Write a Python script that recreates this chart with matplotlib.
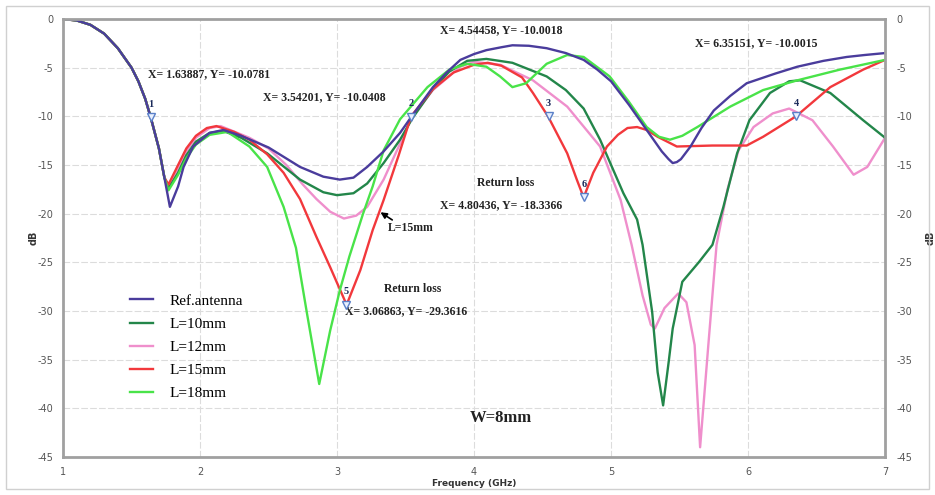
"""Return loss of the antenna for several stub lengths L (W = 8 mm)."""

import matplotlib.pyplot as plt
from matplotlib.patches import Rectangle

plt.rcParams["axes.unicode_minus"] = False

# Shared low-frequency roll-off, identical for every variant
START_F = [1.0, 1.1, 1.2, 1.3, 1.4, 1.5, 1.55, 1.6, 1.64, 1.7, 1.74]
START_DB = [0.0, -0.15, -0.6, -1.5, -3.0, -5.0, -6.4, -8.2, -10.1, -13.3, -16.3]

REF_F = [1.78, 1.84, 1.88, 1.95, 2.07, 2.17, 2.3, 2.5, 2.73, 2.9, 3.02, 3.12,
         3.22, 3.34, 3.46, 3.55, 3.7, 3.8, 3.9, 4.0, 4.09, 4.2, 4.28, 4.4, 4.53,
         4.67, 4.8, 4.9, 5.0, 5.13, 5.26, 5.37, 5.42, 5.45, 5.48, 5.51, 5.58,
         5.66, 5.75, 5.87, 5.99, 6.2, 6.36, 6.55, 6.72, 6.85, 7.0]
REF_DB = [-19.3, -17.2, -15.2, -13.1, -11.7, -11.4, -12.0, -13.2, -15.2, -16.2,
          -16.5, -16.3, -15.2, -13.6, -11.7, -9.9, -7.0, -5.5, -4.2, -3.6, -3.2,
          -2.9, -2.7, -2.75, -3.0, -3.5, -4.2, -5.2, -6.4, -8.8, -11.4, -13.6,
          -14.4, -14.8, -14.7, -14.4, -13.1, -11.2, -9.4, -7.9, -6.6, -5.6, -4.9,
          -4.3, -3.9, -3.7, -3.5]

L10_F = [1.77, 1.84, 1.9, 1.97, 2.07, 2.17, 2.3, 2.49, 2.73, 2.9, 3.0, 3.12,
         3.22, 3.34, 3.46, 3.55, 3.7, 3.82, 3.95, 4.09, 4.28, 4.53, 4.67, 4.8,
         4.92, 5.09, 5.19, 5.23, 5.3, 5.34, 5.38, 5.42, 5.45, 5.52, 5.64, 5.74,
         5.82, 5.92, 6.01, 6.16, 6.3, 6.38, 6.6, 6.84, 7.0]
L10_DB = [-17.4, -15.8, -14.0, -12.6, -11.7, -11.5, -12.2, -13.8, -16.5, -17.8,
          -18.1, -17.9, -16.9, -14.8, -12.4, -10.2, -7.2, -5.4, -4.3, -4.1, -4.5,
          -5.9, -7.3, -9.2, -12.4, -17.9, -20.6, -23.2, -30.1, -36.3, -39.7,
          -35.3, -31.8, -27.0, -25.0, -23.2, -19.3, -13.8, -10.4, -7.6, -6.4,
          -6.3, -7.6, -10.4, -12.2]

L12_F = [1.77, 1.84, 1.9, 1.97, 2.07, 2.15, 2.36, 2.5, 2.63, 2.75, 2.85, 2.95,
         3.05, 3.14, 3.22, 3.34, 3.46, 3.55, 3.7, 3.9, 4.0, 4.19, 4.43, 4.68,
         4.92, 5.07, 5.15, 5.23, 5.29, 5.32, 5.39, 5.49, 5.55, 5.61, 5.65, 5.71,
         5.77, 5.85, 5.93, 6.04, 6.18, 6.3, 6.47, 6.62, 6.77, 6.87, 7.0]
L12_DB = [-17.3, -15.5, -13.6, -12.2, -11.2, -11.0, -12.2, -13.3, -15.0, -17.0,
          -18.5, -19.8, -20.5, -20.2, -19.3, -16.5, -12.8, -10.0, -7.3, -4.9,
          -4.4, -4.7, -6.3, -9.0, -13.1, -18.6, -23.2, -28.4, -31.4, -31.8,
          -29.7, -28.2, -29.1, -33.5, -44.0, -33.5, -23.2, -17.5, -13.5, -11.1,
          -9.7, -9.2, -10.4, -13.1, -16.0, -15.2, -12.2]

L15_F = [1.77, 1.84, 1.9, 1.97, 2.05, 2.12, 2.25, 2.36, 2.49, 2.61, 2.73, 2.85,
         2.95, 3.07, 3.17, 3.26, 3.34, 3.45, 3.54, 3.7, 3.85, 4.0, 4.1, 4.2,
         4.35, 4.43, 4.54, 4.68, 4.75, 4.8, 4.87, 4.97, 5.05, 5.12, 5.19, 5.26,
         5.34, 5.48, 5.74, 5.99, 6.11, 6.35, 6.6, 6.84, 7.0]
L15_DB = [-17.0, -15.0, -13.3, -12.0, -11.2, -11.0, -11.6, -12.4, -13.9, -15.8,
          -18.5, -22.4, -25.5, -29.36, -25.8, -21.7, -18.6, -14.0, -10.0, -7.2,
          -5.5, -4.7, -4.5, -4.8, -6.0, -7.6, -10.0, -13.8, -16.5, -18.34,
          -15.8, -13.1, -11.9, -11.2, -11.1, -11.4, -12.1, -13.1, -13.0, -13.0,
          -12.1, -10.0, -7.0, -5.2, -4.2]

L18_F = [1.77, 1.84, 1.9, 1.97, 2.07, 2.2, 2.36, 2.49, 2.61, 2.7, 2.78, 2.87,
         2.95, 3.02, 3.09, 3.19, 3.26, 3.34, 3.46, 3.66, 3.82, 3.95, 4.09,
         4.19, 4.28, 4.38, 4.53, 4.68, 4.8, 4.99, 5.13, 5.26, 5.35, 5.43, 5.52,
         5.63, 5.87, 6.11, 6.36, 6.67, 7.0]
L18_DB = [-17.6, -16.0, -14.3, -12.9, -11.9, -11.6, -13.1, -15.2, -19.3, -23.5,
          -30.2, -37.5, -32.0, -27.9, -24.4, -20.0, -17.2, -13.5, -10.3, -7.0,
          -5.2, -4.6, -4.9, -5.9, -7.0, -6.6, -4.6, -3.7, -3.9, -5.9, -8.5,
          -11.1, -12.1, -12.4, -12.0, -11.1, -9.0, -7.3, -6.3, -5.2, -4.2]

SERIES = [
    ("L=12mm", L12_F, L12_DB, "#ef8fcc"),
    ("L=10mm", L10_F, L10_DB, "#23864a"),
    ("L=15mm", L15_F, L15_DB, "#f2383c"),
    ("L=18mm", L18_F, L18_DB, "#49e349"),
    ("Ref.antenna", REF_F, REF_DB, "#4a3c9c"),
]
LEGEND_ORDER = ["Ref.antenna", "L=10mm", "L=12mm", "L=15mm", "L=18mm"]

# Marker readouts: (id, frequency, dB)
MARKERS = [
    ("1", 1.63887, -10.0781),
    ("2", 3.54201, -10.0408),
    ("3", 4.54458, -10.0018),
    ("4", 6.35151, -10.0015),
    ("5", 3.06863, -29.3616),
    ("6", 4.80436, -18.3366),
]

SERIF = "Liberation Serif"

fig = plt.figure(figsize=(9.35, 4.95), dpi=100)
fig.patches.append(Rectangle((0.006, 0.012), 0.988, 0.975, transform=fig.transFigure,
                             fill=False, edgecolor="#d0d0d0", linewidth=1.0))

ax = fig.add_axes([0.0674, 0.0768, 0.8792, 0.8848])
ax.set_xlim(1, 7)
ax.set_ylim(-45, 0)
ax.set_xticks(range(1, 8))
ax.set_yticks(range(-45, 1, 5))
ax.grid(True, color="#dcdcdc", linewidth=0.8, linestyle=(0, (6, 2)))
ax.set_axisbelow(True)
for spine in ax.spines.values():
    spine.set_color("#a0a0a0")
    spine.set_linewidth(2.0)
ax.tick_params(length=0, labelsize=7, labelcolor="#555555", pad=7)

lines = {}
for label, f, db, color in SERIES:
    (line,) = ax.plot(START_F + f, START_DB + db, color=color, linewidth=1.7,
                      label=label, solid_joinstyle="round")
    lines[label] = line

for num, f, db in MARKERS:
    ax.plot(f, db, marker="v", markersize=6, markerfacecolor="#e8f0ff",
            markeredgecolor="#5a80c8", markeredgewidth=1.0, linestyle="none", zorder=5)
    ax.annotate(num, (f, db), xytext=(0, 6), textcoords="offset points",
                ha="center", va="bottom", fontsize=7.5, fontweight="bold",
                family=SERIF, color="#1a2a5a")

readout_kw = dict(fontsize=8.5, fontweight="bold", family=SERIF, color="#222222",
                  va="center", ha="left")
ax.text(1.62, -5.65, "X= 1.63887, Y= -10.0781", **readout_kw)
ax.text(2.46, -8.0, "X= 3.54201, Y= -10.0408", **readout_kw)
ax.text(3.75, -1.13, "X= 4.54458, Y= -10.0018", **readout_kw)
ax.text(5.61, -2.47, "X= 6.35151, Y= -10.0015", **readout_kw)
ax.text(4.02, -16.85, "Return loss", **readout_kw)
ax.text(3.75, -19.1, "X= 4.80436, Y= -18.3366", **readout_kw)
ax.text(3.34, -27.7, "Return loss", **readout_kw)
ax.text(3.06, -30.0, "X= 3.06863, Y= -29.3616", **readout_kw)
ax.text(3.37, -21.5, "L=15mm", **readout_kw)
ax.annotate("", xy=(3.30, -19.7), xytext=(3.42, -20.8),
            arrowprops=dict(arrowstyle="-|>", color="black", linewidth=1.2,
                            mutation_scale=9))
ax.text(3.97, -41.0, "W=8mm", fontsize=12, fontweight="bold", family=SERIF,
        color="#222222", va="center", ha="left")

ax.legend([lines[k] for k in LEGEND_ORDER], LEGEND_ORDER, loc="upper left",
          bbox_to_anchor=(0.0815, 0.372), frameon=False, borderpad=0,
          borderaxespad=0, handlelength=1.5, handletextpad=1.1, labelspacing=0.62,
          prop={"family": SERIF, "size": 11})

ax.set_ylabel("dB", fontsize=7, fontweight="bold", color="#333333")
ax.yaxis.set_label_coords(-0.03, 0.5)
ax.set_xlabel("Frequency (GHz)", fontsize=6.5, fontweight="bold", color="#333333",
              labelpad=2)

right = ax.twinx()
right.set_ylim(-45, 0)
right.set_yticks(range(-45, 1, 5))
right.tick_params(length=0, labelsize=7, labelcolor="#555555", pad=8)
for spine in right.spines.values():
    spine.set_visible(False)
right.set_ylabel("dB", fontsize=7, fontweight="bold", color="#333333")
right.yaxis.set_label_coords(1.049, 0.5)

fig.savefig("out.png", dpi=100)
